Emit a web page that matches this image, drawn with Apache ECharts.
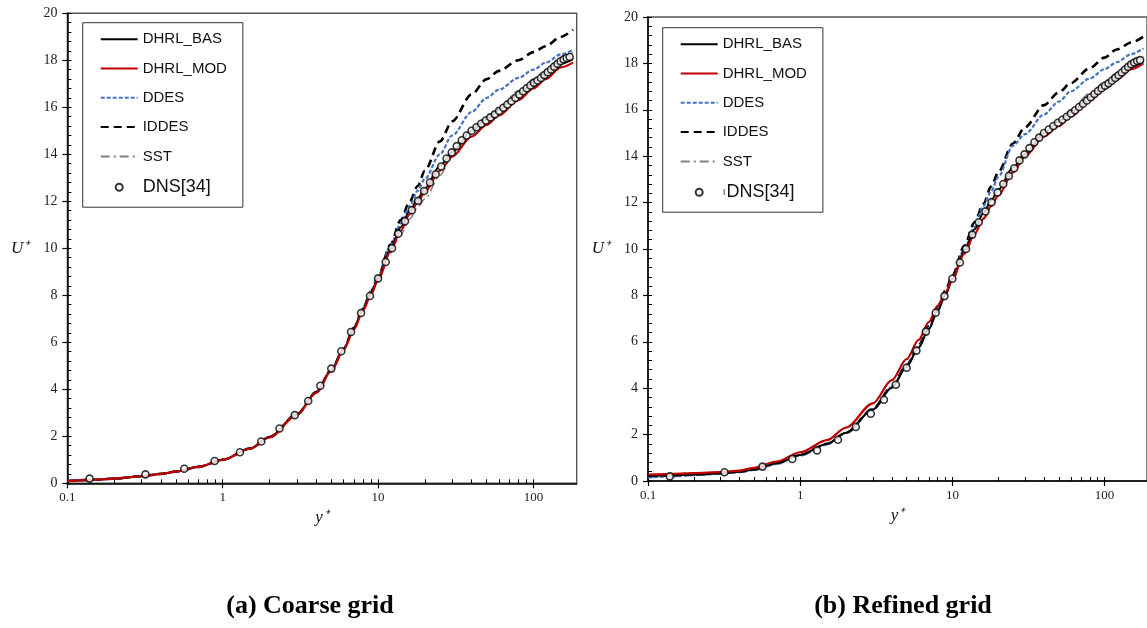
<!DOCTYPE html>
<html><head><meta charset="utf-8">
<script src="https://cdn.jsdelivr.net/npm/echarts@6/dist/echarts.min.js"></script>
<style>html,body{margin:0;padding:0;background:#fff}#c{width:1147px;height:628px}</style>
</head><body><div id="c"></div><script>
// ---------- data ----------
const seriesNames = ['DHRL_BAS','DHRL_MOD','DDES','IDDES','SST','DNS[34]'];
const panelTitles = ['(a) Coarse grid','(b) Refined grid'];
const xTickValues = [0.1,1,10,100];
const xTickLabels = ['0.1','1','10','100'];
const xMinorValues = [0.1,0.2,0.3,0.4,0.5,0.6,0.7,0.8,0.9,1,2,3,4,5,6,7,8,9,10,20,30,40,50,60,70,80,90,100];

const yPlusModel = [0.1,0.15,0.2,0.3,0.4,0.5,0.7,1,1.5,2,3,4,5,6,7,8,9,10,12,14,16,18,20,25,30,40,50,60,80,100,120,150,180];

// (a) coarse grid
const a_BAS   = [0.1,0.15,0.2,0.3,0.4,0.5,0.7,1.0,1.48,1.97,2.93,3.88,4.82,5.72,6.62,7.42,8.1,8.72,9.95,10.9,11.6,12.1,12.55,13.5,14.1,15.0,15.5,15.9,16.55,17.05,17.4,17.85,18.05];
const a_MOD   = [0.1,0.15,0.2,0.3,0.4,0.5,0.7,1.0,1.47,1.95,2.9,3.85,4.78,5.68,6.55,7.35,8.03,8.65,9.85,10.75,11.45,11.95,12.4,13.3,13.9,14.75,15.25,15.65,16.3,16.8,17.2,17.7,17.9];
const a_DDES  = [0.1,0.15,0.2,0.3,0.4,0.5,0.7,1.0,1.48,1.97,2.93,3.88,4.82,5.72,6.62,7.45,8.15,8.8,10.1,11.05,11.8,12.45,12.95,14.0,14.8,15.8,16.4,16.75,17.25,17.6,17.9,18.25,18.45];
const a_IDDES = [0.1,0.15,0.2,0.3,0.4,0.5,0.7,1.0,1.48,1.97,2.93,3.88,4.82,5.72,6.62,7.45,8.15,8.8,10.15,11.2,12.0,12.65,13.3,14.55,15.4,16.55,17.2,17.55,18.0,18.35,18.6,19.0,19.3];
const a_SST   = [0.1,0.15,0.2,0.3,0.4,0.5,0.7,1.0,1.48,1.97,2.92,3.86,4.8,5.7,6.6,7.4,8.05,8.62,9.8,10.6,11.25,11.75,12.1,13.1,13.95,15.05,15.6,16.0,16.7,17.2,17.6,18.05,18.35];

// (b) refined grid
const b_BAS   = [0.22,0.25,0.28,0.33,0.4,0.5,0.76,1.12,1.6,2.08,3.08,4.02,4.92,5.75,6.55,7.32,8.02,8.68,9.95,10.85,11.55,12.1,12.55,13.5,14.1,15.0,15.5,15.9,16.55,17.05,17.4,17.85,18.1];
const b_MOD   = [0.28,0.31,0.34,0.38,0.45,0.57,0.84,1.24,1.76,2.3,3.35,4.35,5.25,6.08,6.85,7.55,8.12,8.7,9.8,10.65,11.3,11.85,12.3,13.3,14.0,14.85,15.3,15.7,16.4,16.9,17.3,17.75,18.0];
const b_DDES  = [0.15,0.2,0.25,0.31,0.38,0.48,0.74,1.1,1.58,2.07,3.08,4.05,4.97,5.8,6.6,7.4,8.1,8.75,10.0,10.95,11.85,12.5,13.1,14.45,14.95,15.8,16.35,16.8,17.35,17.75,18.05,18.4,18.65];
const b_IDDES = [0.2,0.24,0.27,0.33,0.4,0.5,0.76,1.12,1.6,2.08,3.1,4.07,5.0,5.85,6.68,7.5,8.2,8.85,10.15,11.15,11.95,12.7,13.3,14.55,15.25,16.2,16.75,17.15,17.8,18.25,18.6,18.9,19.15];
const b_SST   = [0.22,0.25,0.28,0.33,0.4,0.5,0.76,1.12,1.6,2.08,3.08,4.02,4.92,5.75,6.55,7.3,8.0,8.62,9.85,10.7,11.35,11.9,12.35,13.3,14.0,15.0,15.55,16.0,16.7,17.2,17.6,18.0,18.3];

// DNS reference
const dnsYPlus = [0.139,0.318,0.565,0.887,1.29,1.77,2.32,2.91,3.55,4.25,5.0,5.8,6.7,7.77,8.87,10.0,11.2,12.3,13.5,14.9,16.5,18.1,19.8,21.6,23.5,25.5,27.6,29.8,32.1,34.6,37.2,40.0,43.0,46.1,49.4,52.8,56.4,60.1,64.0,68.0,72.2,76.6,81.1,85.8,90.6,95.6,100.8,106.2,111.8,117.6,123.6,129.8,136.2,142.8,149.6,156.6,163.8,171.2];
const dnsU     = [0.2,0.38,0.62,0.95,1.32,1.78,2.33,2.9,3.5,4.15,4.88,5.62,6.44,7.25,7.97,8.72,9.42,10.0,10.62,11.15,11.62,12.02,12.44,12.8,13.15,13.48,13.82,14.08,14.35,14.6,14.8,15.0,15.15,15.3,15.44,15.57,15.7,15.84,15.98,16.12,16.26,16.4,16.54,16.68,16.81,16.93,17.04,17.14,17.25,17.37,17.49,17.61,17.73,17.85,17.96,18.04,18.1,18.14];

// ---------- chart ----------
const chart = echarts.init(document.getElementById('c'), null, {renderer:'canvas'});
const SERIF = 'Liberation Serif, Times New Roman, serif';
const SANS = 'Liberation Sans, Arial, sans-serif';

const grids = [
  {left:67.4, top:13.3, width:509.3, height:470},
  {left:648, top:17, width:501, height:464}
];
const panels = [
  {BAS:a_BAS, MOD:a_MOD, DDES:a_DDES, IDDES:a_IDDES, SST:a_SST},
  {BAS:b_BAS, MOD:b_MOD, DDES:b_DDES, IDDES:b_IDDES, SST:b_SST}
];
const styles = {
  'IDDES':   {color:'#000000', width:2.6, type:[8,5]},
  'DDES':    {color:'#4472C4', width:2.2, type:[4,2]},
  'SST':     {color:'#808080', width:1.6, type:[9,4,2,4]},
  'DHRL_BAS':{color:'#000000', width:2.0, type:'solid'},
  'DHRL_MOD':{color:'#C00000', width:2.2, type:'solid'}
};
const keyOf = {'DHRL_BAS':'BAS','DHRL_MOD':'MOD','DDES':'DDES','IDDES':'IDDES','SST':'SST'};

const legendData = seriesNames.map(n => n === 'DNS[34]' ? {name:n} : {name:n, itemStyle:{opacity:0}});

const xAxes = [], yAxes = [], series = [], legends = [], graphics = [];
grids.forEach((g, i) => {
  xAxes.push({
    gridIndex:i, type:'log', logBase:10, min:0.1, max:190, position:'bottom',
    axisLine:{show:true, onZero:false, lineStyle:{color:'#000', width:1.5}},
    axisTick:{show:true, inside:false, length:5, customValues:xTickValues, lineStyle:{color:'#000', width:1.2}},
    axisLabel:{show:true, customValues:xTickValues, margin:8,
      formatter:v => { const k = xTickValues.findIndex(t => Math.abs(Math.log10(t) - Math.log10(v)) < 1e-6); return k >= 0 ? xTickLabels[k] : ''; },
      fontFamily:SERIF, fontSize:13, color:'#222'},
    splitLine:{show:false},
    name:'y\u207A', nameLocation:'middle', nameGap:22,
    nameTextStyle:{fontFamily:SERIF, fontStyle:'italic', fontSize:17, color:'#111'}
  });
  xAxes.push({
    gridIndex:i, type:'log', logBase:10, min:0.1, max:190, position:'bottom',
    axisLine:{show:false, onZero:false},
    axisTick:{show:true, inside:true, length:4, customValues:xMinorValues, lineStyle:{color:'#000', width:1}},
    axisLabel:{show:false}, splitLine:{show:false}
  });
  yAxes.push({
    gridIndex:i, type:'value', min:0, max:20, interval:2, position:'left',
    axisLine:{show:true, onZero:false, lineStyle:{color:'#000', width:1.5}},
    axisTick:{show:true, inside:false, length:5, lineStyle:{color:'#000', width:1.2}},
    axisLabel:{fontFamily:SERIF, fontSize:14, color:'#222', margin:10},
    splitLine:{show:false},
    name:'U\u207A', nameLocation:'middle', nameRotate:0, nameGap:38,
    nameTextStyle:{fontFamily:SERIF, fontStyle:'italic', fontSize:17, color:'#111'}
  });
  yAxes.push({
    gridIndex:i, type:'value', min:0, max:20, interval:0.4, position:'left',
    axisLine:{show:false, onZero:false},
    axisTick:{show:true, inside:true, length:4, lineStyle:{color:'#000', width:1}},
    axisLabel:{show:false}, splitLine:{show:false}
  });
  ['IDDES','DDES','SST','DHRL_BAS','DHRL_MOD'].forEach((nm, j) => {
    const vals = panels[i][keyOf[nm]];
    const st = styles[nm];
    series.push({
      type:'line', name:nm, xAxisIndex:2*i, yAxisIndex:2*i,
      data:yPlusModel.map((x, k) => [x, vals[k]]),
      symbol:'none', showSymbol:false, smooth:0.3, smoothMonotone:'x',
      lineStyle:{color:st.color, width:st.width, type:st.type},
      itemStyle:{color:st.color}, z:2 + j, silent:true
    });
  });
  series.push({
    type:'scatter', name:'DNS[34]', xAxisIndex:2*i, yAxisIndex:2*i,
    data:dnsYPlus.map((x, k) => [x, dnsU[k]]),
    symbol:'circle', symbolSize:7,
    itemStyle:{color:'#ffffff', borderColor:'#000', borderWidth:1.6}, z:10, silent:true
  });
  const lpos = i === 0 ? {left:82.7, top:22.7} : {left:662.7, top:27.7};
  legends.push(Object.assign({
    orient:'vertical', itemWidth:37, itemHeight:7, itemGap:14.3,
    padding:[9,16,11,17], borderColor:'#333', borderWidth:1, backgroundColor:'#fff',
    selectedMode:false, data:legendData,
    formatter: name => name === 'DNS[34]' ? (i === 0 ? '{big|DNS[34]}' : '{bar|ı}{big|DNS[34]}') : name,
    textStyle:{fontFamily:SANS, fontSize:15, color:'#111', lineHeight:14,
      rich:{big:{fontFamily:SANS, fontSize:18, lineHeight:14, color:'#111'},
            bar:{fontFamily:SANS, fontSize:10, lineHeight:14, color:'#333', padding:[0,1,0,0]}}}
  }, lpos));
  graphics.push({
    type:'text', x: i === 0 ? 310 : 903, y:606,
    style:{text:panelTitles[i], font:'bold 26px "Liberation Serif"', fill:'#000', textAlign:'center', textVerticalAlign:'middle'}
  });
});

chart.setOption({
  animation:false,
  backgroundColor:'#fff',
  grid:grids.map(g => Object.assign({show:true, borderColor:'#555', borderWidth:1.4, backgroundColor:'transparent'}, g)),
  xAxis:xAxes, yAxis:yAxes, series:series, legend:legends, graphic:graphics
});
</script></body></html>
